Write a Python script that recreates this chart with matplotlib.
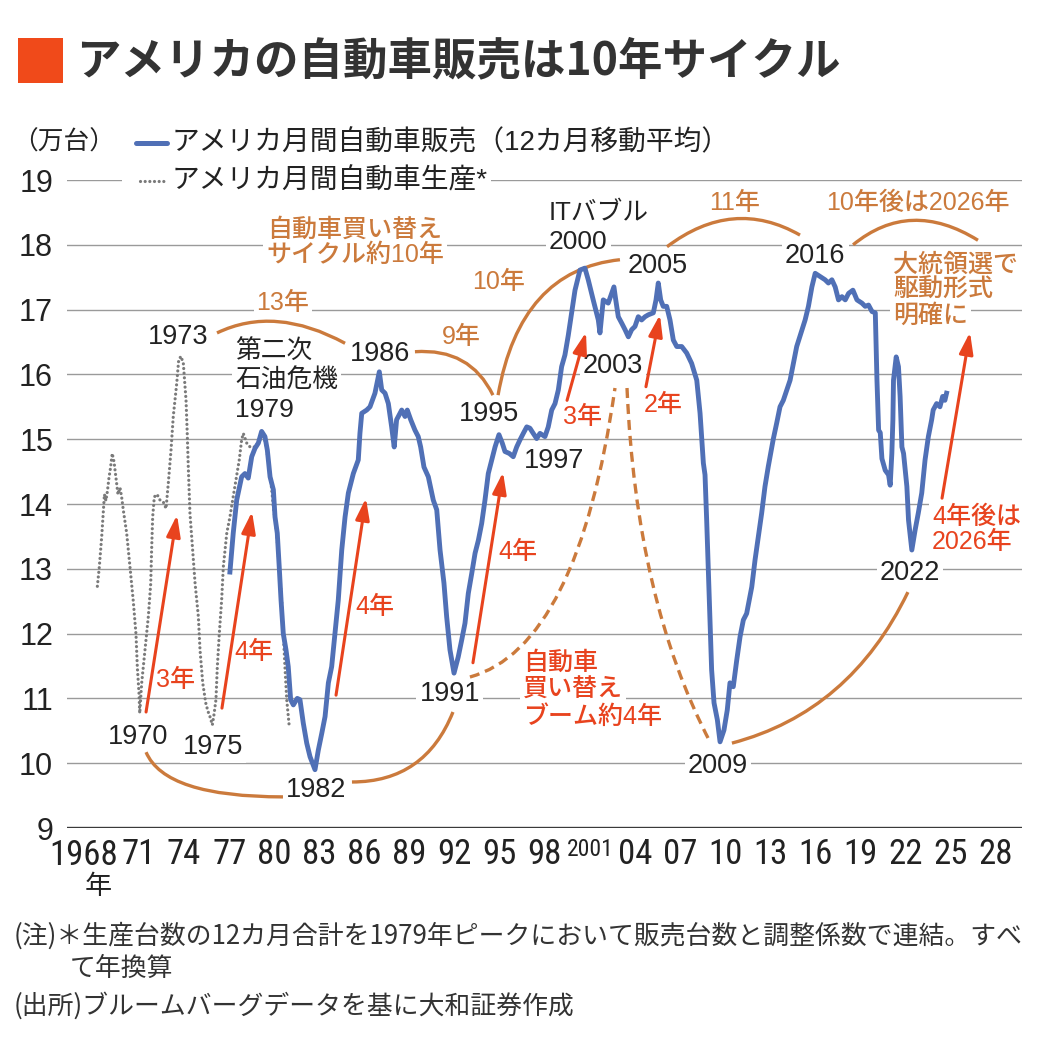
import matplotlib
matplotlib.use("Agg")
import matplotlib.pyplot as plt
from matplotlib import font_manager
from matplotlib.font_manager import FontProperties
from matplotlib.path import Path
from matplotlib.patches import PathPatch, Rectangle
from matplotlib.lines import Line2D

# ---------------- data ----------------
sales_year = [1977.05, 1977.27, 1977.50, 1977.83, 1978.05, 1978.27, 1978.50, 1978.72, 1978.94, 1979.16,
              1979.38, 1979.54, 1979.72, 1979.94, 1980.05, 1980.20, 1980.33, 1980.45, 1980.60, 1980.78,
              1980.93, 1981.09, 1981.27, 1981.53, 1981.71, 1981.93, 1982.16, 1982.38, 1982.71, 1982.93,
              1983.16, 1983.38, 1983.60, 1983.82, 1984.04, 1984.26, 1984.49, 1984.71, 1984.93, 1985.26,
              1985.59, 1985.70, 1985.82, 1986.15, 1986.37, 1986.70, 1986.99, 1987.15, 1987.37, 1987.59,
              1987.81, 1987.98, 1988.14, 1988.48, 1988.70, 1988.85, 1989.08, 1989.36, 1989.58, 1989.74,
              1989.96, 1990.25, 1990.58, 1990.81, 1991.03, 1991.29, 1991.47, 1991.69, 1991.96, 1992.24,
              1992.47, 1992.69, 1992.91, 1993.14, 1993.36, 1993.58, 1993.80, 1994.02, 1994.24, 1994.47,
              1994.69, 1994.95, 1995.17, 1995.35, 1995.64, 1995.90, 1996.13, 1996.35, 1996.57, 1996.80,
              1997.01, 1997.23, 1997.46, 1997.68, 1998.01, 1998.23, 1998.46, 1998.68, 1998.90, 1999.12,
              1999.34, 1999.56, 1999.79, 2000.01, 2000.34, 2000.67, 2000.89, 2001.22, 2001.56, 2001.67,
              2001.89, 2002.22, 2002.45, 2002.60, 2002.72, 2002.89, 2003.12, 2003.34, 2003.56, 2003.78,
              2004.00, 2004.22, 2004.44, 2004.67, 2004.89, 2005.22, 2005.40, 2005.55, 2005.71, 2005.88,
              2006.11, 2006.33, 2006.55, 2006.78, 2007.11, 2007.44, 2007.77, 2008.11, 2008.33, 2008.55,
              2008.66, 2008.77, 2008.88, 2008.99, 2009.10, 2009.26, 2009.48, 2009.66, 2009.92, 2010.14,
              2010.32, 2010.54, 2010.77, 2010.99, 2011.21, 2011.43, 2011.77, 2011.99, 2012.21, 2012.43,
              2012.65, 2012.87, 2013.20, 2013.43, 2013.65, 2013.87, 2014.32, 2014.76, 2015.32, 2015.54,
              2015.77, 2015.99, 2016.32, 2016.65, 2016.87, 2017.10, 2017.32, 2017.54, 2017.77, 2017.99,
              2018.21, 2018.50, 2018.77, 2019.10, 2019.32, 2019.54, 2019.77, 2019.99, 2020.10, 2020.21,
              2020.32, 2020.43, 2020.65, 2020.87, 2020.98, 2021.09, 2021.16, 2021.20, 2021.38, 2021.53,
              2021.64, 2021.76, 2021.87, 2022.09, 2022.20, 2022.42, 2022.64, 2022.85, 2023.08, 2023.30,
              2023.52, 2023.74, 2023.84, 2024.07, 2024.29, 2024.47, 2024.62, 2024.73]
sales_value = [12.95, 13.55, 14.06, 14.42, 14.47, 14.40, 14.73, 14.86, 14.94, 15.12,
               15.04, 14.83, 14.42, 14.22, 13.80, 13.55, 13.03, 12.52, 12.00, 11.75,
               11.49, 10.98, 10.90, 11.00, 10.98, 10.62, 10.31, 10.10, 9.90, 10.20,
               10.46, 10.72, 11.24, 11.49, 12.00, 12.52, 13.29, 13.80, 14.17, 14.47,
               14.68, 15.09, 15.40, 15.45, 15.50, 15.71, 16.04, 15.76, 15.71, 15.55,
               15.19, 14.88, 15.30, 15.45, 15.35, 15.45, 15.30, 15.14, 15.04, 14.88,
               14.57, 14.42, 14.06, 13.91, 13.29, 12.78, 12.26, 11.75, 11.39, 11.64,
               11.90, 12.16, 12.62, 12.93, 13.24, 13.44, 13.70, 14.06, 14.47, 14.68,
               14.88, 15.07, 14.94, 14.81, 14.78, 14.73, 14.88, 14.99, 15.09, 15.19,
               15.17, 15.09, 15.01, 15.09, 15.04, 15.19, 15.45, 15.55, 15.76, 16.12,
               16.30, 16.60, 16.96, 17.30, 17.61, 17.64, 17.46, 17.15, 16.84, 16.64,
               17.15, 17.10, 17.25, 17.35, 17.15, 16.89, 16.79, 16.69, 16.58, 16.69,
               16.74, 16.89, 16.84, 16.89, 16.92, 16.95, 17.15, 17.41, 17.15, 17.05,
               17.05, 16.84, 16.53, 16.43, 16.43, 16.33, 16.17, 15.91, 15.40, 14.63,
               14.45, 13.75, 12.98, 12.21, 11.44, 10.93, 10.67, 10.33, 10.51, 10.82,
               11.24, 11.18, 11.59, 11.95, 12.21, 12.31, 12.72, 13.14, 13.50, 13.86,
               14.27, 14.58, 15.00, 15.25, 15.50, 15.60, 15.91, 16.43, 16.84, 17.05,
               17.35, 17.56, 17.51, 17.46, 17.41, 17.46, 17.35, 17.15, 17.20, 17.15,
               17.25, 17.30, 17.15, 17.10, 17.05, 17.07, 16.97, 16.95, 15.91, 15.14,
               15.10, 14.70, 14.52, 14.45, 14.29, 14.78, 15.30, 15.91, 16.27, 16.12,
               15.66, 14.88, 14.78, 14.27, 13.75, 13.29, 13.60, 13.86, 14.17, 14.68,
               15.04, 15.30, 15.45, 15.55, 15.50, 15.66, 15.60, 15.71]

prod_year = [1968.23, 1968.36, 1968.52, 1968.62, 1968.70, 1968.80, 1968.90, 1969.00, 1969.10, 1969.22,
             1969.34, 1969.47, 1969.60, 1969.74, 1969.85, 1969.96, 1970.18, 1970.40, 1970.62, 1970.80,
             1970.89, 1971.00, 1971.05, 1971.18, 1971.40, 1971.62, 1971.78, 1971.84, 1971.91, 1972.02,
             1972.20, 1972.40, 1972.62, 1972.80, 1972.95, 1973.13, 1973.28, 1973.51, 1973.64, 1973.79,
             1973.95, 1974.13, 1974.21, 1974.28, 1974.39, 1974.57, 1974.73, 1974.95, 1975.06, 1975.24,
             1975.44, 1975.59, 1975.72, 1975.88, 1975.99, 1976.12, 1976.21, 1976.34, 1976.50, 1976.61,
             1976.84, 1977.05, 1977.23, 1977.45, 1977.67, 1977.83, 1977.94, 1978.17, 1978.39, 1978.72,
             1979.05, 1979.32, 1979.50, 1979.72, 1979.94, 1980.16, 1980.33, 1980.49, 1980.60, 1980.71,
             1980.83, 1981.00]
prod_value = [12.73, 13.03, 13.50, 13.86, 14.15, 14.05, 14.20, 14.40, 14.55, 14.78,
              14.65, 14.40, 14.15, 14.25, 14.10, 13.90, 13.55, 13.03, 12.50, 11.99,
              11.48, 11.08, 10.77, 11.24, 11.75, 12.26, 12.77, 13.29, 13.80, 14.11,
              14.15, 14.06, 14.03, 13.93, 14.32, 14.83, 15.35, 15.86, 16.22, 16.28,
              16.17, 15.60, 15.09, 14.57, 13.86, 13.29, 12.78, 12.26, 11.75, 11.24,
              10.93, 10.80, 10.72, 10.59, 10.75, 10.98, 11.48, 11.99, 12.52, 13.03,
              13.55, 13.80, 14.06, 14.37, 14.68, 14.99, 15.09, 14.94, 14.88, 14.88,
              14.99, 15.04, 14.83, 14.47, 13.96, 13.55, 13.03, 12.52, 12.00, 11.49,
              10.98, 10.56]

x_ticks = [1968, 1971, 1974, 1977, 1980, 1983, 1986, 1989, 1992, 1995, 1998, 2001,
           2004, 2007, 2010, 2013, 2016, 2019, 2022, 2025, 2028]
x_tick_labels = ["1968", "71", "74", "77", "80", "83", "86", "89", "92", "95", "98", "2001",
                 "04", "07", "10", "13", "16", "19", "22", "25", "28"]
y_ticks = [9, 10, 11, 12, 13, 14, 15, 16, 17, 18, 19]

title = "アメリカの自動車販売は10年サイクル"
unit_label = "（万台）"
sales_name = "アメリカ月間自動車販売（12カ月移動平均）"
prod_name = "アメリカ月間自動車生産*"
notes = ["(注)＊生産台数の12カ月合計を1979年ピークにおいて販売台数と調整係数で連結。すべ",
         "て年換算",
         "(出所)ブルームバーグデータを基に大和証券作成"]

# ---------------- fonts ----------------
entries = font_manager.fontManager.ttflist
names = {f.name for f in entries}
JP = "Noto Sans CJK JP"
NUM = "Liberation Sans" if "Liberation Sans" in names else "DejaVu Sans"
MIX = [NUM, JP]
plt.rcParams["font.family"] = MIX


def find_condensed():
    prefs = ["Liberation Sans Narrow", "Roboto Condensed", "Open Sans Condensed",
             "Noto Sans", "Open Sans", "Roboto", "DejaVu Sans Condensed", "DejaVu Sans"]
    cands = []
    for f in entries:
        st = str(f.stretch)
        nm = f.name
        cond = ("Narrow" in nm or "Condensed" in nm or st in ("condensed", "semi-condensed"))
        if not cond or f.style != "normal":
            continue
        if str(f.weight) not in ("400", "normal", "regular", "book"):
            continue
        low = f.fname.lower()
        if "extra" in low or "ultra" in low:
            continue
        rank = prefs.index(nm) if nm in prefs else len(prefs)
        semi = 1 if ("semi" in low or st == "semi-condensed") else 0
        cands.append((rank, semi, f.fname))
    if cands:
        cands.sort()
        return cands[0][2]
    return None


cond_file = find_condensed()
if cond_file:
    XFONT = FontProperties(fname=cond_file, size=25)
    XFONT_SMALL = FontProperties(fname=cond_file, size=17)
else:
    XFONT = FontProperties(family=NUM, size=21)
    XFONT_SMALL = FontProperties(family=NUM, size=14)

BLUE = "#5070B6"
GRAY = "#7a7a7a"
RED = "#E8431E"
BROWN = "#CB7A3C"
INK = "#222222"
W, H = 1040, 1049

fig = plt.figure(figsize=(W / 100, H / 100), dpi=100)
ax = fig.add_axes([67 / W, 1 - 828 / H, (1022 - 67) / W, (828 - 180) / H])
ax.set_xlim(1966.21, 2029.75)
ax.set_ylim(9, 19)
for s in ax.spines.values():
    s.set_visible(False)

for v in y_ticks[1:]:
    ax.axhline(v, color="#9a9a9a", lw=1.0, zorder=0)
ax.axhline(9, color="#3a3a3a", lw=1.7, zorder=0)

ax.set_yticks(y_ticks)
ax.set_yticklabels([str(v) for v in y_ticks], fontsize=22, family=NUM, color=INK)
ax.set_xticks(x_ticks)
ax.set_xticklabels([("" if l == "1968" else l) for l in x_tick_labels], color=INK)
for t, l in zip(ax.get_xticklabels(), x_tick_labels):
    t.set_fontproperties(XFONT_SMALL if l == "2001" else XFONT)
ax.tick_params(axis="y", length=0, pad=10)
ax.tick_params(axis="x", length=0, pad=7.5)
ax.annotate("1968", xy=(x_ticks[0], 0), xycoords=("data", "axes fraction"),
            xytext=(17.5, -8), textcoords="offset points", ha="right", va="top",
            fontproperties=XFONT, color=INK)

# data lines
ax.plot(prod_year, prod_value, color=GRAY, lw=2.3, ls=(0, (0.01, 1.45)),
        dash_capstyle="round", zorder=4)
ax.plot(sales_year, sales_value, color=BLUE, lw=3.5, solid_joinstyle="round", zorder=5)

BG = dict(boxstyle="square,pad=0.12", fc="white", ec="none")


def label(txt, x, y, color=INK, size=19.5, ha="center", weight="normal"):
    ax.text(x, y, txt, color=color, fontsize=size, ha=ha, va="center", fontweight=weight,
            family=MIX, bbox=BG, zorder=2.5)


# black year labels
for txt, x, y in [("1973", 1973.59, 16.58), ("1970", 1970.93, 10.40), ("1975", 1975.92, 10.25),
                  ("1982", 1982.78, 9.59), ("1986", 1987.03, 16.31), ("1995", 1994.29, 15.39),
                  ("1997", 1998.61, 14.66), ("1991", 1991.69, 11.07), ("2003", 2002.54, 16.13),
                  ("2005", 2005.53, 17.67), ("2016", 2015.98, 17.83), ("2009", 2009.52, 9.96),
                  ("2022", 2022.30, 12.94)]:
    label(txt, x, y)
for txt, y in [("第二次", 16.35), ("石油危機", 15.90), ("1979", 15.45)]:
    label(txt, 1977.39, y, ha="left", size=19 if txt == "1979" else 18.5)
for txt, y in [("ITバブル", 18.49), ("2000", 18.04)]:
    label(txt, 1998.28, y, ha="left", size=19 if txt == "2000" else 18.5)

# brown labels
for txt, x, y in [("自動車買い替え", 1985.37, 18.23), ("サイクル約10年", 1985.37, 17.84),
                  ("13年", 1980.58, 17.10), ("9年", 1992.42, 16.58), ("10年", 1994.95, 17.43),
                  ("11年", 2010.65, 18.65), ("10年後は2026年", 2022.83, 18.65)]:
    label(txt, x, y, color=BROWN, size=18, weight="medium")
for txt, y in [("大統領選で", 17.69), ("駆動形式", 17.30), ("明確に", 16.90)]:
    label(txt, 2021.17, y, color=BROWN, size=18, ha="left", weight="medium")

# red labels
for txt, x, y in [("3年", 1973.46, 11.28), ("4年", 1978.65, 11.72), ("4年", 1986.70, 12.41),
                  ("4年", 1996.22, 13.26), ("3年", 2000.54, 15.34), ("2年", 2005.86, 15.53)]:
    label(txt, x, y, color=RED, size=18, weight="medium")
for txt, y in [("自動車", 11.55), ("買い替え", 11.13), ("ブーム約4年", 10.71)]:
    label(txt, 1996.55, y, color=RED, size=18, ha="left", weight="medium")
for txt, y in [("4年後は", 13.80), ("2026年", 13.41)]:
    label(txt, 2023.76, y, color=RED, size=18, ha="left", weight="medium")

# red arrows
for (x0, y0), (x1, y1) in [((1971.47, 10.79), (1973.53, 13.83)), ((1976.52, 10.85), (1978.52, 13.88)),
                           ((1984.11, 11.05), (1986.10, 14.09)), ((1993.22, 11.55), (1995.22, 14.49)),
                           ((1999.48, 15.60), (2000.74, 16.65)), ((2004.73, 15.81), (2005.66, 16.92)),
                           ((2024.43, 14.09), (2026.29, 16.65))]:
    ax.annotate("", xy=(x1, y1), xytext=(x0, y0),
                arrowprops=dict(arrowstyle="-|>,head_length=1.3,head_width=0.42",
                                color=RED, lw=2.2, shrinkA=0, shrinkB=0),
                zorder=6)


# brown arcs (quadratic curves)
def arc(p0, c, p2, dashed=False):
    path = Path([p0, c, p2], [Path.MOVETO, Path.CURVE3, Path.CURVE3])
    ax.add_patch(PathPatch(path, fc="none", ec=BROWN, lw=2.4,
                           ls=(0, (3.0, 1.8)) if dashed else "-", capstyle="butt", zorder=3))


arc((1971.47, 10.17), (1972.73, 9.48), (1980.58, 9.48))
arc((1985.17, 9.71), (1990.03, 9.71), (1991.89, 10.79))
arc((1976.19, 16.64), (1980.05, 17.07), (1984.71, 16.48))
arc((1989.36, 16.35), (1993.02, 16.41), (1994.55, 15.68))
arc((1994.89, 15.68), (1996.35, 17.61), (2003.00, 17.77))
arc((2006.13, 17.97), (2010.52, 18.74), (2014.98, 18.15))
arc((2018.51, 18.00), (2022.30, 18.72), (2026.82, 18.07))
arc((2010.45, 10.31), (2018.31, 10.79), (2022.16, 12.64))
arc((1993.02, 11.33), (2000.21, 11.79), (2002.67, 15.79), dashed=True)
arc((2003.47, 15.79), (2004.07, 12.52), (2008.99, 10.33), dashed=True)


# ---------------- figure-level text ----------------
def fx(px):
    return px / W


def fy(py):
    return 1 - py / H


fig.patches.append(Rectangle((fx(18), fy(83)), 45 / W, 45 / H, transform=fig.transFigure,
                             fc="#F04A1A", ec="none", zorder=5))
fig.text(fx(76), fy(61), title, fontsize=32, fontweight="bold", family=JP,
         color="#333333", ha="left", va="center")

fig.text(fx(12), fy(143), unit_label, fontsize=18.5, family=JP, color=INK, ha="left", va="center")

# legend
fig.patches.append(Rectangle((fx(122), fy(192)), 50 / W, 24 / H, transform=fig.transFigure,
                             fc="white", ec="none", zorder=5))
fig.lines.append(Line2D([fx(136), fx(167)], [fy(143), fy(143)], transform=fig.transFigure,
                        color=BLUE, lw=3.6, solid_capstyle="round", zorder=6))
fig.lines.append(Line2D([fx(140), fx(166)], [fy(181), fy(181)], transform=fig.transFigure,
                        color=GRAY, lw=2.3, ls=(0, (0.01, 1.45)), dash_capstyle="round", zorder=6))
fig.text(fx(172), fy(143), sales_name, fontsize=20, color=INK, ha="left", va="center", zorder=6)
fig.text(fx(172), fy(181), prod_name, fontsize=20, color=INK, ha="left", va="center", zorder=6,
         bbox=dict(boxstyle="square,pad=0.1", fc="white", ec="none"))

fig.text(fx(98), fy(886), "年", fontsize=19.5, family=JP, color=INK, ha="center", va="center")

fig.text(fx(14), fy(936), notes[0], fontsize=18.6, family=JP, color="#333333", ha="left", va="center")
fig.text(fx(70), fy(968), notes[1], fontsize=18.6, family=JP, color="#333333", ha="left", va="center")
fig.text(fx(14), fy(1006), notes[2], fontsize=18.6, family=JP, color="#333333", ha="left", va="center")

fig.savefig("out.png", dpi=100, facecolor="white")
